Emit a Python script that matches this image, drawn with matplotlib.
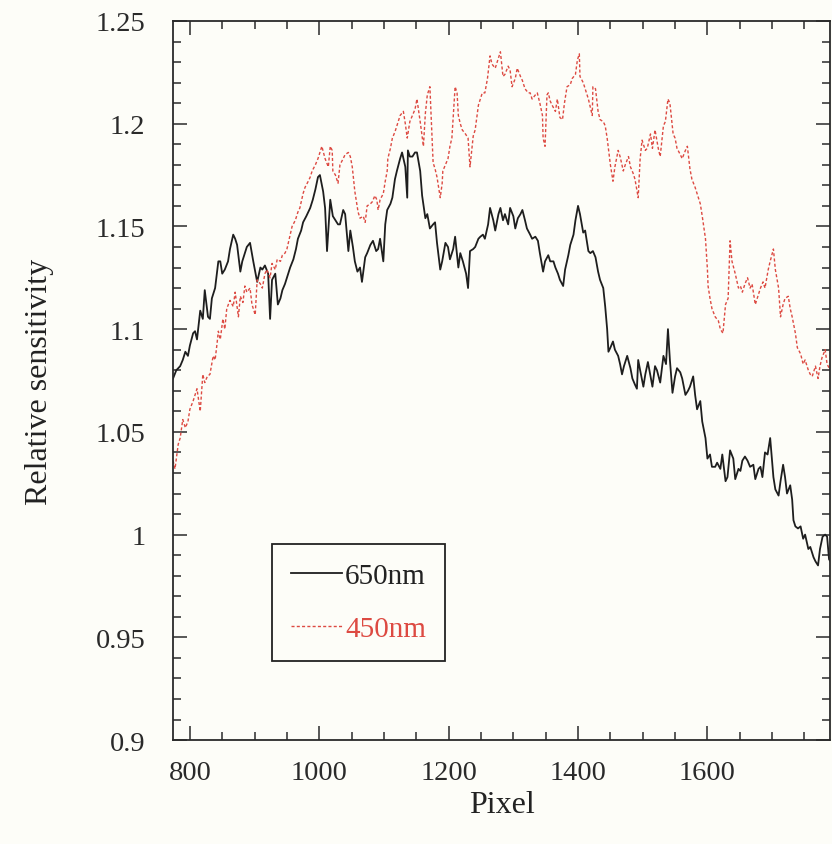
import numpy as np
import matplotlib
matplotlib.use("Agg")
from matplotlib import pyplot as plt
from matplotlib.ticker import MultipleLocator, FormatStrFormatter

# detector pixel vs relative sensitivity, 650 nm channel
px_650 = [774, 779, 785, 789, 793, 797, 800, 805, 808, 811, 816, 820, 823, 828, 831, 834, 839, 844, 847, 850,
          854, 859, 862, 867, 870, 873, 878, 881, 885, 888, 893, 898, 901, 904, 909, 912, 916, 921, 924, 927,
          932, 936, 940, 943, 947, 950, 955, 960, 964, 967, 972, 975, 980, 986, 990, 994, 998, 1001, 1006, 1009,
          1012, 1017, 1021, 1025, 1029, 1032, 1037, 1040, 1045, 1048, 1052, 1055, 1059, 1063, 1066, 1071, 1074,
          1079, 1083, 1088, 1091, 1094, 1099, 1102, 1105, 1110, 1113, 1117, 1120, 1125, 1128, 1133, 1136, 1137,
          1140, 1144, 1148, 1151, 1156, 1159, 1164, 1167, 1171, 1176, 1179, 1182, 1187, 1190, 1195, 1199, 1202,
          1207, 1210, 1215, 1218, 1222, 1227, 1230, 1233, 1238, 1241, 1246, 1249, 1253, 1256, 1261, 1264, 1269,
          1272, 1277, 1280, 1284, 1287, 1292, 1295, 1300, 1303, 1307, 1311, 1314, 1318, 1321, 1326, 1329, 1334,
          1338, 1341, 1346, 1349, 1354, 1357, 1362, 1365, 1369, 1372, 1377, 1380, 1385, 1388, 1393, 1396, 1400,
          1403, 1408, 1411, 1416, 1419, 1423, 1427, 1431, 1434, 1439, 1442, 1445, 1447, 1450, 1454, 1457, 1462,
          1465, 1468, 1471, 1476, 1481, 1484, 1488, 1491, 1493, 1496, 1501, 1504, 1508, 1512, 1515, 1519, 1522,
          1527, 1532, 1536, 1539, 1542, 1546, 1550, 1553, 1558, 1561, 1566, 1570, 1573, 1578, 1581, 1584, 1589,
          1592, 1597, 1600, 1604, 1607, 1612, 1615, 1620, 1623, 1628, 1631, 1635, 1640, 1643, 1648, 1651, 1654,
          1658, 1662, 1666, 1671, 1674, 1679, 1682, 1685, 1689, 1693, 1697, 1702, 1705, 1710, 1713, 1717, 1720,
          1723, 1728, 1731, 1733, 1736, 1740, 1744, 1748, 1751, 1756, 1759, 1764, 1767, 1771, 1774, 1778, 1782,
          1785, 1788, 1790]
sens_650 = [1.076, 1.080, 1.082, 1.085, 1.089, 1.087, 1.092, 1.098, 1.099, 1.095, 1.109, 1.105, 1.119, 1.106,
            1.105, 1.115, 1.120, 1.133, 1.133, 1.127, 1.129, 1.133, 1.139, 1.146, 1.144, 1.141, 1.128, 1.133,
            1.137, 1.140, 1.142, 1.133, 1.128, 1.123, 1.130, 1.129, 1.131, 1.127, 1.105, 1.124, 1.127, 1.112,
            1.115, 1.119, 1.122, 1.125, 1.130, 1.134, 1.139, 1.144, 1.148, 1.152, 1.155, 1.159, 1.163, 1.168,
            1.174, 1.175, 1.167, 1.159, 1.138, 1.163, 1.155, 1.153, 1.151, 1.151, 1.158, 1.156, 1.138, 1.148,
            1.140, 1.133, 1.128, 1.130, 1.123, 1.135, 1.137, 1.141, 1.143, 1.138, 1.139, 1.144, 1.133, 1.151,
            1.158, 1.161, 1.164, 1.173, 1.177, 1.183, 1.186, 1.179, 1.164, 1.187, 1.184, 1.184, 1.186, 1.186,
            1.177, 1.165, 1.154, 1.156, 1.149, 1.151, 1.152, 1.142, 1.129, 1.133, 1.142, 1.140, 1.134, 1.139,
            1.145, 1.130, 1.137, 1.133, 1.127, 1.120, 1.138, 1.139, 1.140, 1.144, 1.145, 1.146, 1.144, 1.151,
            1.159, 1.153, 1.148, 1.156, 1.159, 1.153, 1.156, 1.151, 1.159, 1.155, 1.149, 1.154, 1.156, 1.158,
            1.153, 1.149, 1.146, 1.144, 1.145, 1.143, 1.137, 1.128, 1.133, 1.136, 1.133, 1.133, 1.130, 1.127,
            1.124, 1.121, 1.129, 1.136, 1.141, 1.146, 1.153, 1.160, 1.156, 1.147, 1.148, 1.138, 1.137, 1.138,
            1.135, 1.128, 1.124, 1.120, 1.111, 1.100, 1.089, 1.091, 1.094, 1.090, 1.087, 1.083, 1.078, 1.082,
            1.087, 1.081, 1.076, 1.073, 1.071, 1.085, 1.080, 1.072, 1.078, 1.084, 1.077, 1.072, 1.082, 1.080,
            1.074, 1.087, 1.083, 1.100, 1.085, 1.069, 1.077, 1.081, 1.079, 1.076, 1.068, 1.070, 1.072, 1.077,
            1.068, 1.061, 1.065, 1.055, 1.047, 1.037, 1.039, 1.033, 1.033, 1.035, 1.032, 1.039, 1.026, 1.028,
            1.041, 1.037, 1.027, 1.032, 1.031, 1.036, 1.038, 1.036, 1.033, 1.034, 1.027, 1.032, 1.033, 1.028,
            1.040, 1.039, 1.047, 1.028, 1.022, 1.019, 1.026, 1.034, 1.028, 1.020, 1.024, 1.017, 1.007, 1.004,
            1.003, 1.004, 0.998, 1.000, 0.993, 0.994, 0.989, 0.987, 0.985, 0.993, 0.999, 1.000, 0.999, 0.988,
            0.987]

# 450 nm channel
px_450 = [774, 777, 782, 785, 789, 793, 797, 800, 805, 808, 811, 816, 820, 823, 827, 831, 836, 839, 842, 844,
          847, 851, 854, 857, 862, 867, 870, 875, 878, 882, 885, 888, 893, 896, 901, 904, 909, 912, 916, 919,
          924, 927, 932, 935, 940, 943, 947, 950, 955, 958, 963, 967, 970, 975, 978, 983, 986, 989, 994, 998,
          1001, 1004, 1009, 1014, 1017, 1020, 1021, 1025, 1029, 1032, 1037, 1040, 1045, 1048, 1051, 1055, 1060,
          1063, 1068, 1071, 1074, 1079, 1082, 1086, 1089, 1091, 1094, 1099, 1102, 1105, 1106, 1110, 1113, 1117,
          1122, 1125, 1130, 1133, 1136, 1140, 1144, 1148, 1151, 1156, 1161, 1164, 1167, 1171, 1176, 1179, 1182,
          1187, 1190, 1191, 1195, 1199, 1202, 1205, 1210, 1213, 1215, 1218, 1221, 1226, 1230, 1233, 1238, 1241,
          1246, 1249, 1252, 1256, 1260, 1264, 1267, 1272, 1277, 1280, 1284, 1287, 1292, 1295, 1298, 1303, 1306,
          1311, 1314, 1318, 1323, 1326, 1329, 1334, 1337, 1341, 1345, 1346, 1349, 1352, 1354, 1357, 1360, 1365,
          1368, 1372, 1376, 1379, 1383, 1388, 1391, 1396, 1399, 1402, 1403, 1408, 1411, 1416, 1419, 1422, 1423,
          1427, 1431, 1434, 1439, 1442, 1445, 1450, 1454, 1457, 1462, 1465, 1470, 1473, 1478, 1481, 1485, 1488,
          1493, 1496, 1499, 1504, 1507, 1512, 1515, 1519, 1524, 1527, 1532, 1535, 1539, 1542, 1547, 1550, 1553,
          1558, 1561, 1566, 1569, 1573, 1576, 1581, 1584, 1589, 1592, 1597, 1600, 1601, 1604, 1607, 1612, 1617,
          1620, 1624, 1628, 1632, 1635, 1638, 1643, 1648, 1651, 1654, 1658, 1662, 1666, 1669, 1674, 1677, 1682,
          1686, 1689, 1694, 1697, 1702, 1705, 1710, 1713, 1717, 1720, 1725, 1728, 1731, 1736, 1739, 1744, 1748,
          1751, 1756, 1759, 1762, 1767, 1771, 1774, 1777, 1782, 1785, 1790]
sens_450 = [1.036, 1.032, 1.044, 1.047, 1.056, 1.052, 1.055, 1.061, 1.065, 1.068, 1.071, 1.060, 1.078, 1.074,
            1.077, 1.078, 1.087, 1.085, 1.093, 1.099, 1.095, 1.105, 1.100, 1.110, 1.114, 1.111, 1.118, 1.106,
            1.116, 1.113, 1.121, 1.118, 1.120, 1.112, 1.107, 1.124, 1.122, 1.120, 1.127, 1.129, 1.125, 1.132,
            1.129, 1.134, 1.133, 1.136, 1.137, 1.139, 1.146, 1.150, 1.153, 1.157, 1.159, 1.166, 1.169, 1.172,
            1.174, 1.177, 1.180, 1.183, 1.186, 1.189, 1.183, 1.179, 1.189, 1.187, 1.177, 1.175, 1.171, 1.180,
            1.183, 1.185, 1.186, 1.184, 1.179, 1.167, 1.157, 1.154, 1.155, 1.152, 1.160, 1.161, 1.162, 1.165,
            1.163, 1.158, 1.163, 1.166, 1.172, 1.177, 1.183, 1.188, 1.193, 1.196, 1.201, 1.204, 1.206, 1.200,
            1.193, 1.201, 1.204, 1.207, 1.212, 1.201, 1.189, 1.205, 1.214, 1.218, 1.181, 1.178, 1.174, 1.164,
            1.171, 1.177, 1.180, 1.183, 1.189, 1.193, 1.218, 1.215, 1.204, 1.200, 1.197, 1.195, 1.193, 1.179,
            1.194, 1.197, 1.209, 1.212, 1.215, 1.215, 1.222, 1.233, 1.229, 1.227, 1.232, 1.235, 1.223, 1.224,
            1.228, 1.226, 1.218, 1.222, 1.227, 1.223, 1.221, 1.217, 1.215, 1.215, 1.212, 1.214, 1.215, 1.210,
            1.204, 1.193, 1.189, 1.214, 1.215, 1.211, 1.209, 1.206, 1.212, 1.203, 1.202, 1.210, 1.218, 1.219,
            1.222, 1.224, 1.231, 1.234, 1.223, 1.220, 1.217, 1.212, 1.208, 1.204, 1.218, 1.217, 1.206, 1.202,
            1.201, 1.199, 1.193, 1.180, 1.172, 1.179, 1.187, 1.184, 1.177, 1.180, 1.184, 1.179, 1.176, 1.173,
            1.164, 1.183, 1.192, 1.187, 1.188, 1.195, 1.188, 1.197, 1.188, 1.184, 1.199, 1.201, 1.212, 1.210,
            1.195, 1.193, 1.188, 1.185, 1.183, 1.187, 1.189, 1.178, 1.173, 1.169, 1.166, 1.161, 1.155, 1.144,
            1.129, 1.121, 1.115, 1.110, 1.106, 1.104, 1.100, 1.098, 1.112, 1.115, 1.143, 1.133, 1.127, 1.120,
            1.121, 1.118, 1.122, 1.125, 1.120, 1.122, 1.112, 1.115, 1.120, 1.123, 1.120, 1.129, 1.133, 1.139,
            1.129, 1.120, 1.106, 1.112, 1.115, 1.116, 1.110, 1.106, 1.098, 1.091, 1.088, 1.083, 1.085, 1.080,
            1.078, 1.077, 1.082, 1.076, 1.082, 1.086, 1.090, 1.083, 1.080]

x_ticks = [800, 1000, 1200, 1400, 1600]
y_ticks = [0.9, 0.95, 1.0, 1.05, 1.1, 1.15, 1.2, 1.25]

plt.rcParams['font.family'] = ['Liberation Serif', 'DejaVu Serif']
bg = '#fdfdf8'
red = '#dd4a42'

fig = plt.figure(figsize=(8.32, 8.45), dpi=100, facecolor=bg)
ax = fig.add_axes([0.208, 0.123, 0.790, 0.851], facecolor=bg)

ax.plot(px_650, sens_650, color='#1e1e1e', lw=1.3, label='650nm')
ax.plot(px_450, sens_450, color=red, lw=1.0, ls=(0, (2.2, 1.6)), label='450nm')

ax.set_xlim(774, 1790)
ax.set_ylim(0.9, 1.25)
ax.set_xticks(x_ticks)
ax.xaxis.set_minor_locator(MultipleLocator(50))
ax.set_yticks(y_ticks)
ax.yaxis.set_minor_locator(MultipleLocator(0.01))
ax.yaxis.set_major_formatter(FormatStrFormatter('%g'))

ax.tick_params(which='both', direction='in', top=True, right=True, width=1.1, colors='#2a2a2a',
               labelsize=20.5)
ax.tick_params(axis='x', pad=14)
ax.tick_params(axis='y', pad=20)
ax.tick_params(which='major', length=10)
ax.tick_params(which='minor', length=6)
for s in ax.spines.values():
    s.set_color('#2a2a2a')
    s.set_linewidth(1.3)

ax.set_xlabel('Pixel', fontsize=23, labelpad=4, color='#222222')
ax.set_ylabel('Relative sensitivity', fontsize=23, labelpad=30, color='#222222')

leg = ax.legend(loc='upper left', bbox_to_anchor=(0.151, 0.273), fontsize=21, frameon=True,
                fancybox=False, edgecolor='#222222', facecolor=bg, framealpha=1,
                handlelength=1.75, handletextpad=0.1, borderpad=0.65, labelspacing=0.9,
                borderaxespad=0)
leg.get_frame().set_linewidth(1.3)
leg.get_texts()[0].set_color('#222222')
leg.get_texts()[1].set_color(red)

fig.savefig('out.png', dpi=100, facecolor=bg)
